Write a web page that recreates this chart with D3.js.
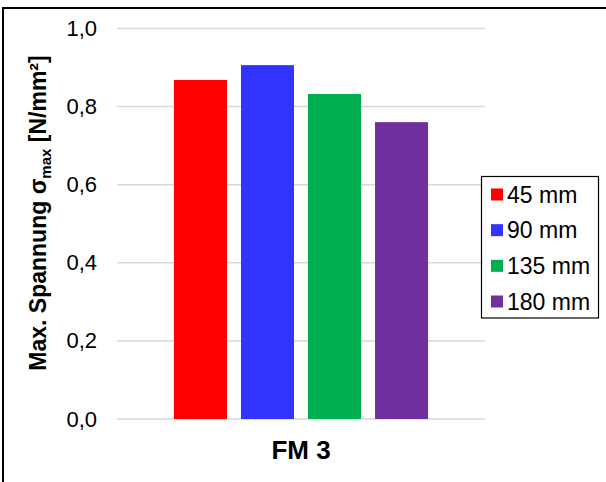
<!DOCTYPE html>
<html>
<head>
<meta charset="utf-8">
<script src="https://cdn.jsdelivr.net/npm/d3@7/dist/d3.min.js"></script>
<style>
html,body{margin:0;padding:0;background:#fff;}
svg{display:block;}
text{font-family:Arial,"Liberation Sans",sans-serif;}
</style>
</head>
<body>
<svg id="chart" width="606" height="482"></svg>
<script>
const categories = ["FM 3"];
const seriesNames = ["45 mm", "90 mm", "135 mm", "180 mm"];
const seriesValues = [0.868, 0.906, 0.832, 0.760];
const seriesColors = ["#FF0000", "#3333FF", "#00B050", "#7030A0"];
const yTicks = [0, 0.2, 0.4, 0.6, 0.8, 1.0];
const yTickLabels = ["0,0", "0,2", "0,4", "0,6", "0,8", "1,0"];

const svg = d3.select("#chart");
const plot = {left: 117, right: 485, top: 28.4, bottom: 419};

// outer frame (cropped on right and bottom)
svg.append("rect").attr("x", 3).attr("y", 8).attr("width", 700).attr("height", 600)
  .attr("fill", "none").attr("stroke", "#000").attr("stroke-width", 2);

const y = d3.scaleLinear().domain([0, 1]).range([plot.bottom, plot.top]);
const x0 = d3.scaleBand().domain(categories).range([plot.left, plot.right]).paddingInner(0).paddingOuter(0);
const x1 = d3.scaleBand().domain(seriesNames).range([0, x0.bandwidth()]).paddingInner(0.209).paddingOuter(0.85);

// gridlines
svg.append("g").selectAll("line").data(yTicks).join("line")
  .attr("x1", plot.left).attr("x2", plot.right)
  .attr("y1", d => y(d)).attr("y2", d => y(d))
  .attr("stroke", "#D9D9D9").attr("stroke-width", 1.5);

// y axis labels
const yAxis = d3.axisLeft(y).tickValues(yTicks).tickFormat((d, i) => yTickLabels[i]).tickSize(0).tickPadding(0);
const ga = svg.append("g").attr("transform", `translate(97,0)`).call(yAxis);
ga.select(".domain").remove();
ga.selectAll("text").attr("font-size", 22).attr("fill", "#000").attr("font-family", "Arial, 'Liberation Sans', sans-serif");

// bars
const g = svg.append("g");
categories.forEach(cat => {
  g.selectAll("rect.bar").data(seriesNames.map((s, i) => ({s, v: seriesValues[i], c: seriesColors[i]})))
    .join("rect").attr("class", "bar")
    .attr("x", d => x0(cat) + x1(d.s))
    .attr("width", x1.bandwidth())
    .attr("y", d => y(d.v))
    .attr("height", d => y(0) - y(d.v))
    .attr("fill", d => d.c);
});

// x category label
svg.append("g").selectAll("text").data(categories).join("text")
  .attr("x", d => x0(d) + x0.bandwidth() / 2)
  .attr("y", 459)
  .attr("text-anchor", "middle")
  .attr("font-size", 26).attr("font-weight", "bold").attr("fill", "#000")
  .text(d => d);

// y axis title
const t = svg.append("text")
  .attr("transform", "translate(46,213) rotate(-90)")
  .attr("text-anchor", "middle")
  .attr("font-size", 23).attr("font-weight", "bold").attr("fill", "#000");
t.append("tspan").text("Max. Spannung \u03C3");
t.append("tspan").attr("font-size", 15).attr("dy", 5).text("max");
t.append("tspan").attr("dy", -5).text(" [N/mm\u00B2]");

// legend
const leg = svg.append("g");
leg.append("rect").attr("x", 481.5).attr("y", 176.5).attr("width", 117).attr("height", 141.5)
  .attr("fill", "#fff").attr("stroke", "#000").attr("stroke-width", 1.2);
const ly = d3.scalePoint().domain(seriesNames).range([194.5, 301.5]);
seriesNames.forEach((s, i) => {
  leg.append("rect").attr("x", 491).attr("y", ly(s) - 6).attr("width", 12).attr("height", 12).attr("fill", seriesColors[i]);
  leg.append("text").attr("x", 507).attr("y", ly(s) + 8).attr("font-size", 23).attr("fill", "#000").text(s);
});
</script>
</body>
</html>
